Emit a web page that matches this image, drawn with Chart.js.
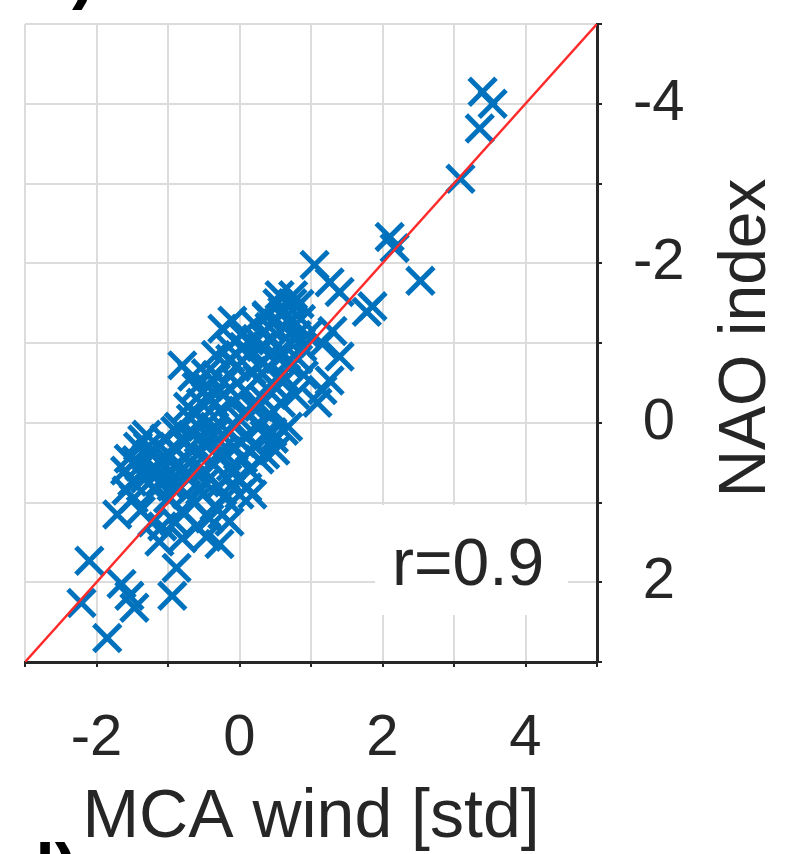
<!DOCTYPE html>
<html>
<head>
<meta charset="utf-8">
<title>MCA wind vs NAO index</title>
<script src="https://cdn.jsdelivr.net/npm/chart.js@4.4.1/dist/chart.umd.min.js"></script>
<style>
  html, body { margin: 0; padding: 0; background: #fff; }
  #wrap { width: 785px; height: 854px; }
</style>
</head>
<body>
<div id="wrap"><canvas id="scatter" width="785" height="854"></canvas></div>
<script>
// --- data ---
const mcaWind = [
  3.40, 3.54, 3.36, 3.09, 2.10, 2.17, 2.53,
  1.05, 1.26, 1.40, 1.78, 1.86, 1.30, 1.40, 1.16, 1.26, 1.09, 1.16,
  0.38, 0.14, -0.10, -0.24, -0.66, -0.80, 0.74, 0.84, 0.56,
  -1.40, -1.32, -1.25, -1.18, -1.10, -1.05, -1.00, -0.98, -0.92, -0.88,
  -0.85, -0.80, -0.76, -0.72, -0.70, -0.66, -0.62, -0.60, -0.58, -0.55,
  -0.52, -0.50, -0.47, -0.45, -0.42, -0.40, -0.38, -0.35, -0.33, -0.30,
  -0.28, -0.25, -0.22, -0.20, -0.18, -0.15, -0.12, -0.10, -0.08, -0.05,
  -0.02, 0.00, 0.03, 0.05, 0.08, 0.10, 0.12, 0.15, 0.18, 0.20,
  0.22, 0.25, 0.28, 0.30, 0.33, 0.36, 0.38, 0.40, 0.43, 0.46,
  0.48, 0.50, 0.53, 0.56, 0.58, 0.62, 0.65, 0.68, 0.72, 0.75,
  0.78, 0.82, 0.86, 0.90, 0.95,
  -1.55, -1.48, -1.38, -1.28, -1.22, -1.15, -1.08, -0.98, -0.90, -0.82, -1.60,
  -2.21, -2.10, -1.85, -1.65, -1.54, -1.47, -0.94, -0.88, -1.71, -1.12,
  -0.80, -0.46, -0.28, -0.24, -0.14, 0.11, 0.18, -1.36, -1.44, -1.50,
  0.28, 0.46, 0.62, 0.50,
  -1.30, -1.20, -1.12, -1.02, -0.95, -0.90, -0.86, -0.78, -0.74, -0.68,
  -0.64, -0.57, -0.54, -0.48, -0.44, -0.37, -0.32, -0.27, -0.23, -0.17,
  -0.13, -0.07, -0.03, 0.02, 0.06, 0.09, 0.14, 0.17, 0.24, 0.27,
  0.32, 0.35, 0.42, 0.45, 0.52, 0.60, 0.66, 0.70, 0.80, 0.88,
  -1.58, -1.42, -0.60, -0.35, 0.00
];
const naoIndex = [
  -4.15, -4.00, -3.69, -3.06, -2.33, -2.19, -1.78,
  -1.98, -1.76, -1.64, -1.39, -1.46, -1.15, -0.83, -0.99, -0.53, -0.25, -0.41,
  -1.33, -1.03, -1.28, -1.18, -0.58, -0.72, -1.50, -1.49, -1.60,
  0.55, 0.70, 0.38, 0.85, 0.48, 0.20, 0.95, 0.62, 0.30, 0.78,
  0.05, 1.10, 0.45, -0.20, 0.70, 0.15, 1.00, -0.45, 0.40, 0.85,
  -0.05, 0.60, -0.62, 0.25, 1.20, -0.30, 0.50, 0.05, -0.85, 0.80,
  -0.15, 0.35, -0.50, 0.95, 0.10, -0.95, 0.55, -0.25, 0.30, -0.70,
  0.70, -0.05, -1.10, 0.45, -0.40, 0.15, -0.85, 0.60, -0.20, -1.25,
  0.30, -0.55, 0.05, -0.95, -0.30, 0.40, -1.35, -0.70, -0.10, -1.05,
  0.20, -0.45, -1.50, -0.80, -0.25, -1.20, -0.55, 0.05, -1.00, -1.60,
  -0.35, -0.80, -1.30, -0.60, -1.10,
  0.45, 0.95, 1.10, 0.30, 1.25, 0.65, 1.30, 0.40, 1.25, 0.60, 0.60,
  2.26, 1.73, 2.70, 2.02, 2.17, 2.32, 2.17, 1.82, 1.15, 1.49,
  1.45, 1.43, 1.52, 1.15, 1.24, 0.81, 0.90, 0.21, 0.47, 0.74,
  0.46, 0.12, 0.10, 0.35,
  0.15, 0.55, 0.75, 0.45, 0.80, 0.10, 0.50, 0.25, 0.90, -0.05,
  0.55, 0.20, -0.25, 0.75, -0.45, 0.15, -0.60, 0.45, -0.35, 0.70,
  -0.80, 0.05, -0.50, 0.25, -0.95, -0.15, 0.35, -0.65, -1.05, -0.20,
  -0.75, 0.15, -1.20, -0.50, -0.95, -1.40, -0.75, -1.25, -1.10, -0.95,
  0.85, 0.30, 1.30, 1.05, 0.90
];

// 1:1 reference line (y axis is flipped, so it runs corner to corner)
const lineX = [-3, 5];
const lineY = [3, -5];

const xTickLabels = [-2, 0, 2, 4];
const yTickLabels = [-4, -2, 0, 2];
const xTitle = 'MCA wind [std]';
const yTitle = 'NAO index';
const corrText = 'r=0.9';

const FONT = '"Liberation Sans", Arial, Helvetica, sans-serif';
const TEXT = '#262626';

const points = mcaWind.map((x, i) => ({ x: x, y: naoIndex[i] }));
const linePts = lineX.map((x, i) => ({ x: x, y: lineY[i] }));

// extra text: corr box, rotated y title, clipped panel letters
const annotate = {
  id: 'annotate',
  beforeDatasetsDraw(chart) {
    const ctx = chart.ctx;
    ctx.save();
    // white box behind r=...
    ctx.fillStyle = '#fff';
    ctx.fillRect(375, 505, 193, 110);
    ctx.fillStyle = TEXT;
    ctx.font = '66px ' + FONT;
    ctx.textAlign = 'left';
    ctx.textBaseline = 'alphabetic';
    ctx.fillText(corrText, 392, 585);
    ctx.restore();
  },
  afterDraw(chart) {
    const ctx = chart.ctx;
    ctx.save();
    ctx.fillStyle = TEXT;
    ctx.font = '66px ' + FONT;
    ctx.textAlign = 'center';
    ctx.textBaseline = 'middle';
    ctx.translate(747, 338);
    ctx.rotate(-Math.PI / 2);
    ctx.fillText(yTitle, 0, 0);
    ctx.restore();

    // panel letters cut off by the crop
    ctx.save();
    ctx.fillStyle = '#000';
    ctx.font = 'bold 70px ' + FONT;
    ctx.textBaseline = 'alphabetic';
    ctx.fillText('c)', 33, -5);
    ctx.fillText('d)', 12, 893);
    ctx.restore();
  }
};

const ctx = document.getElementById('scatter');
const scatterChart = new Chart(ctx, {
  type: 'scatter',
  data: {
    datasets: [
      {
        type: 'line',
        data: linePts,
        borderColor: '#ff2a2a',
        borderWidth: 2.5,
        pointRadius: 0,
        fill: false
      },
      {
        data: points,
        pointStyle: 'crossRot',
        pointRadius: 19,
        pointHoverRadius: 19,
        borderWidth: 5,
        borderColor: '#0072BD',
        backgroundColor: '#0072BD'
      }
    ]
  },
  options: {
    responsive: false,
    animation: false,
    events: [],
    layout: { padding: { left: 25, top: 15, right: 0, bottom: 0 } },
    plugins: {
      legend: { display: false },
      tooltip: { enabled: false }
    },
    scales: {
      x: {
        type: 'linear',
        position: 'bottom',
        min: -3,
        max: 5,
        afterFit: (s) => { s.height = 192; s.paddingLeft = 0; s.paddingRight = 0; },
        ticks: {
          stepSize: 1,
          autoSkip: false,
          maxRotation: 0,
          padding: 37,
          color: TEXT,
          font: { family: FONT, size: 58 },
          callback: (v) => xTickLabels.includes(v) ? String(v) : ''
        },
        grid: {
          color: '#dcdcdc',
          lineWidth: 2,
          tickColor: TEXT,
          tickLength: 5,
          tickWidth: 2
        },
        border: { display: true, color: TEXT, width: 3 },
        title: {
          display: true,
          text: xTitle,
          color: TEXT,
          font: { family: FONT, size: 68, lineHeight: 1 },
          padding: { top: 0, bottom: 2 }
        }
      },
      y: {
        type: 'linear',
        position: 'right',
        reverse: true,
        min: -5,
        max: 3,
        afterFit: (s) => { s.width = 188; s.paddingTop = 0; s.paddingBottom = 0; },
        ticks: {
          stepSize: 1,
          autoSkip: false,
          crossAlign: 'center',
          padding: 31,
          color: TEXT,
          font: { family: FONT, size: 58 },
          callback: (v) => yTickLabels.includes(v) ? String(v) : ''
        },
        grid: {
          color: '#dcdcdc',
          lineWidth: 2,
          tickColor: TEXT,
          tickLength: 5,
          tickWidth: 2
        },
        border: { display: true, color: TEXT, width: 3 }
      }
    }
  },
  plugins: [annotate]
});
</script>
</body>
</html>
